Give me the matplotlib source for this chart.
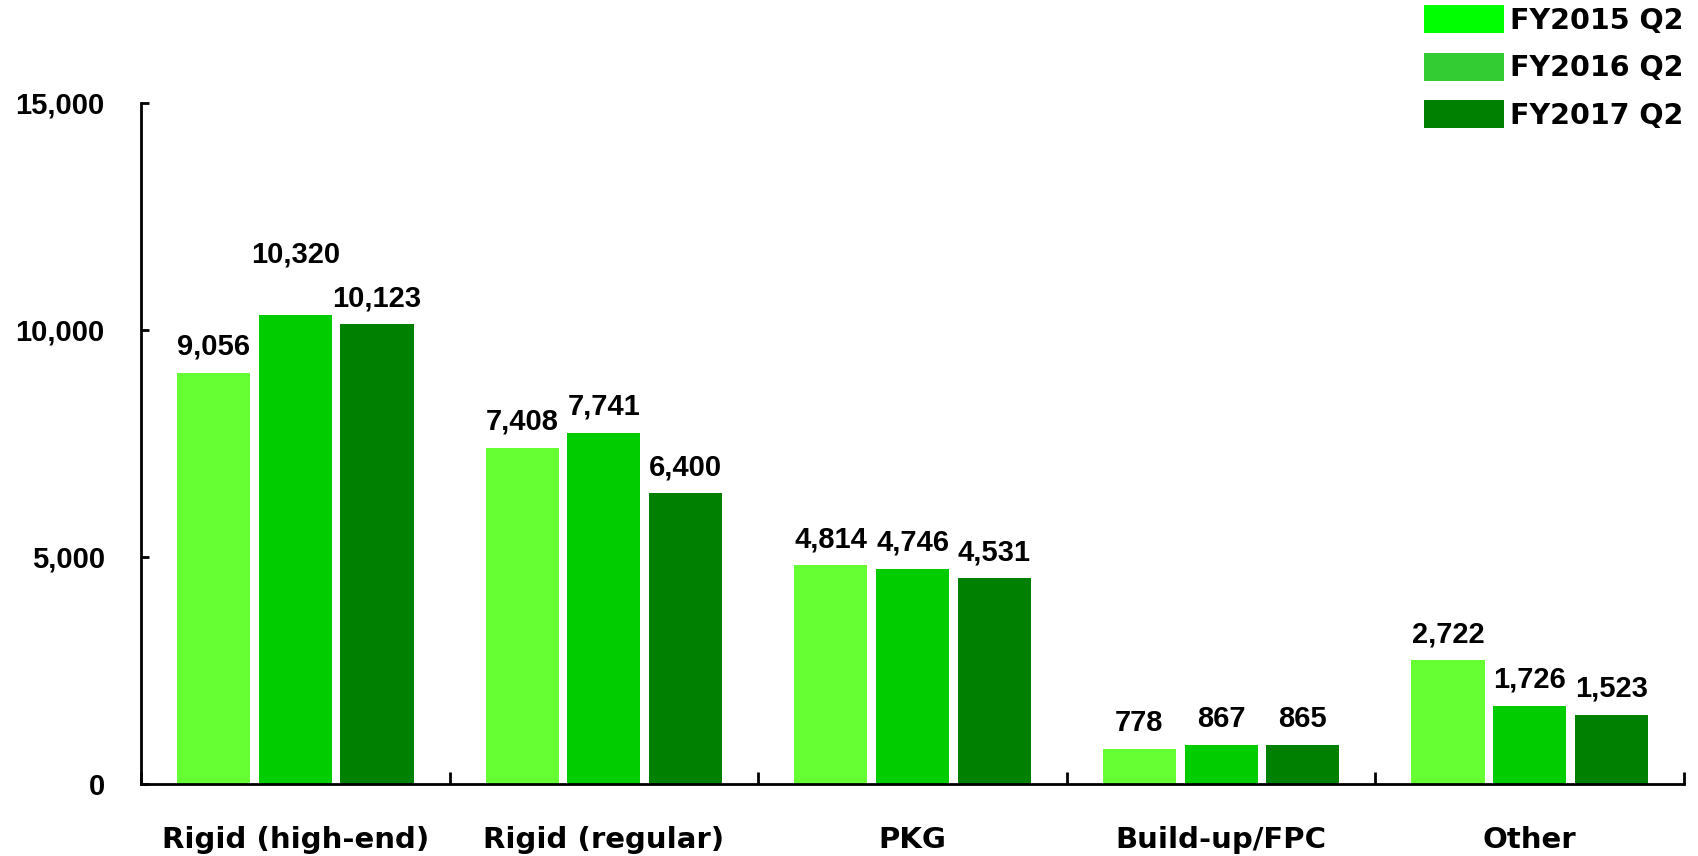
import numpy as np
import matplotlib
matplotlib.use("Agg")
import matplotlib.pyplot as plt
from matplotlib.patches import Patch

# data
categories = ["Rigid (high-end)", "Rigid (regular)", "PKG", "Build-up/FPC", "Other"]
series_names = ["FY2015 Q2", "FY2016 Q2", "FY2017 Q2"]
fy2015 = [9056, 7408, 4814, 778, 2722]
fy2016 = [10320, 7741, 4746, 867, 1726]
fy2017 = [10123, 6400, 4531, 865, 1523]
y_ticks = [0, 5000, 10000, 15000]

bar_colors = ["#66FF33", "#00CC00", "#008000"]
legend_colors = ["#00FF00", "#33CC33", "#008000"]

fig = plt.figure(figsize=(16.98, 8.56), dpi=100)
ax = fig.add_axes([0.0830, 0.0841, 0.9088, 0.7956])

x = np.arange(len(categories))
step = 0.265
width = 0.237
series = [fy2015, fy2016, fy2017]
for i, vals in enumerate(series):
    xs = x + (i - 1) * step
    ax.bar(xs, vals, width=width, color=bar_colors[i], linewidth=0)
    for j, (xx, v) in enumerate(zip(xs, vals)):
        off = 13
        # the tallest label was nudged up in the original to clear its neighbour
        if v == max(fy2016) and i == 1:
            off = 38
        ax.annotate(f"{v:,}", (xx, v), xytext=(0, off), textcoords="offset points",
                    ha="center", va="baseline", fontsize=21, fontweight="bold",
                    family="Liberation Sans", color="#000000")

ax.set_xlim(-0.5, len(categories) - 0.5)
ax.set_ylim(0, 15000)
ax.set_yticks(y_ticks)
ax.set_yticklabels([f"{t:,}" for t in y_ticks], fontsize=21, fontweight="bold",
                   family="Liberation Sans")
ax.set_xticks(x)
ax.set_xticklabels(categories, fontsize=21, fontweight="bold", family="DejaVu Sans")
ax.set_xticks(np.arange(len(categories) + 1) - 0.5, minor=True)

for spine in ("top", "right"):
    ax.spines[spine].set_visible(False)
for spine in ("left", "bottom"):
    ax.spines[spine].set_linewidth(2)
    ax.spines[spine].set_color("#000000")

ax.tick_params(axis="y", direction="in", length=6, width=2, pad=26)
ax.tick_params(axis="x", which="major", length=0, pad=30)
ax.tick_params(axis="x", which="minor", direction="in", length=9, width=2)

handles = [Patch(facecolor=c, edgecolor="none") for c in legend_colors]
fig.legend(handles, series_names, loc="upper right",
           bbox_to_anchor=(1683 / 1698, 1 - 5 / 856), frameon=False,
           prop={"family": "DejaVu Sans", "weight": "bold", "size": 20.5},
           handlelength=2.8, handleheight=1.16, handletextpad=0.2,
           labelspacing=0.62, borderpad=0, borderaxespad=0)

fig.savefig("out.png", dpi=100, facecolor="white")
